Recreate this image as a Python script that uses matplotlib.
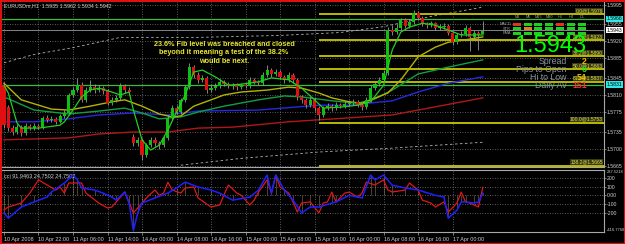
import matplotlib
matplotlib.use("Agg")
import matplotlib.pyplot as plt
from matplotlib.patches import Rectangle

plt.rcParams['font.family'] = ['Liberation Sans', 'DejaVu Sans']

W, H = 625, 244

# EURUSDm H1 candles (bar 0 = 10 Apr 2008)
opens = [1.5830, 1.5785, 1.5742, 1.5734, 1.5744, 1.5732, 1.5746, 1.5742, 1.5746, 1.5744,
         1.5763, 1.5759, 1.5761, 1.5755, 1.5767, 1.5773, 1.5810, 1.5820, 1.5830, 1.5800,
         1.5820, 1.5826, 1.5820, 1.5824, 1.5818, 1.5793, 1.5800, 1.5804, 1.5828, 1.5820,
         1.5724, 1.5711, 1.5718, 1.5687, 1.5707, 1.5718, 1.5711, 1.5707, 1.5722, 1.5763,
         1.5783, 1.5775, 1.5800, 1.5826, 1.5867, 1.5851, 1.5841, 1.5845, 1.5820, 1.5824,
         1.5828, 1.5837, 1.5832, 1.5828, 1.5830, 1.5826, 1.5830, 1.5828, 1.5841, 1.5837,
         1.5835, 1.5851, 1.5861, 1.5853, 1.5857, 1.5847, 1.5841, 1.5851, 1.5841, 1.5806,
         1.5800, 1.5789, 1.5800, 1.5783, 1.5769, 1.5783, 1.5787, 1.5783, 1.5789, 1.5787,
         1.5791, 1.5793, 1.5796, 1.5789, 1.5785, 1.5800, 1.5824, 1.5832, 1.5841, 1.5855,
         1.5943, 1.5939, 1.5947, 1.5964, 1.5951, 1.5960, 1.5978, 1.5968, 1.5955, 1.5953,
         1.5957, 1.5947, 1.5949, 1.5951, 1.5937, 1.5918, 1.5933, 1.5935, 1.5947, 1.5929,
         1.5937, 1.5935]
highs = [1.5836, 1.5790, 1.5748, 1.5750, 1.5748, 1.5752, 1.5750, 1.5752, 1.5750, 1.5766,
         1.5768, 1.5766, 1.5765, 1.5771, 1.5779, 1.5815, 1.5826, 1.5845, 1.5836, 1.5826,
         1.5840, 1.5832, 1.5830, 1.5828, 1.5822, 1.5806, 1.5810, 1.5834, 1.5832, 1.5826,
         1.5730, 1.5724, 1.5722, 1.5712, 1.5724, 1.5724, 1.5716, 1.5728, 1.5769, 1.5789,
         1.5789, 1.5804, 1.5830, 1.5875, 1.5871, 1.5857, 1.5851, 1.5849, 1.5830, 1.5834,
         1.5843, 1.5841, 1.5837, 1.5835, 1.5834, 1.5835, 1.5834, 1.5847, 1.5845, 1.5841,
         1.5857, 1.5871, 1.5865, 1.5863, 1.5861, 1.5851, 1.5857, 1.5855, 1.5845, 1.5810,
         1.5804, 1.5806, 1.5804, 1.5787, 1.5787, 1.5793, 1.5791, 1.5795, 1.5793, 1.5797,
         1.5800, 1.5802, 1.5800, 1.5793, 1.5806, 1.5830, 1.5837, 1.5847, 1.5861, 1.5949,
         1.5953, 1.5955, 1.5968, 1.5968, 1.5966, 1.5984, 1.5982, 1.5972, 1.5960, 1.5962,
         1.5960, 1.5955, 1.5957, 1.5955, 1.5941, 1.5937, 1.5941, 1.5953, 1.5951, 1.5943,
         1.5941, 1.5962]
lows = [1.5742, 1.5736, 1.5728, 1.5730, 1.5726, 1.5728, 1.5738, 1.5738, 1.5740, 1.5740,
        1.5755, 1.5755, 1.5750, 1.5752, 1.5763, 1.5769, 1.5806, 1.5816, 1.5795, 1.5796,
        1.5816, 1.5814, 1.5816, 1.5812, 1.5789, 1.5789, 1.5796, 1.5800, 1.5814, 1.5810,
        1.5705, 1.5705, 1.5677, 1.5683, 1.5703, 1.5705, 1.5700, 1.5703, 1.5718, 1.5759,
        1.5771, 1.5771, 1.5796, 1.5822, 1.5845, 1.5835, 1.5837, 1.5814, 1.5816, 1.5820,
        1.5824, 1.5828, 1.5824, 1.5822, 1.5820, 1.5822, 1.5824, 1.5824, 1.5832, 1.5830,
        1.5830, 1.5847, 1.5847, 1.5849, 1.5843, 1.5835, 1.5837, 1.5835, 1.5800, 1.5793,
        1.5783, 1.5785, 1.5777, 1.5759, 1.5765, 1.5779, 1.5777, 1.5779, 1.5783, 1.5783,
        1.5787, 1.5789, 1.5785, 1.5779, 1.5781, 1.5796, 1.5820, 1.5828, 1.5837, 1.5851,
        1.5933, 1.5935, 1.5943, 1.5947, 1.5947, 1.5955, 1.5964, 1.5951, 1.5947, 1.5949,
        1.5943, 1.5943, 1.5945, 1.5933, 1.5912, 1.5914, 1.5929, 1.5931, 1.5900, 1.5925,
        1.5902, 1.5934]
closes = [1.5748, 1.5742, 1.5734, 1.5744, 1.5732, 1.5746, 1.5742, 1.5746, 1.5744, 1.5763,
          1.5759, 1.5761, 1.5755, 1.5767, 1.5773, 1.5810, 1.5820, 1.5830, 1.5800, 1.5820,
          1.5826, 1.5820, 1.5824, 1.5818, 1.5793, 1.5800, 1.5804, 1.5828, 1.5820, 1.5816,
          1.5711, 1.5718, 1.5687, 1.5707, 1.5718, 1.5711, 1.5707, 1.5722, 1.5763, 1.5783,
          1.5775, 1.5800, 1.5826, 1.5867, 1.5851, 1.5841, 1.5845, 1.5820, 1.5824, 1.5828,
          1.5837, 1.5832, 1.5828, 1.5830, 1.5826, 1.5830, 1.5828, 1.5841, 1.5837, 1.5835,
          1.5851, 1.5861, 1.5853, 1.5857, 1.5847, 1.5841, 1.5851, 1.5841, 1.5806, 1.5800,
          1.5789, 1.5800, 1.5783, 1.5769, 1.5783, 1.5787, 1.5783, 1.5789, 1.5787, 1.5791,
          1.5793, 1.5796, 1.5789, 1.5785, 1.5800, 1.5824, 1.5832, 1.5841, 1.5855, 1.5943,
          1.5939, 1.5947, 1.5964, 1.5951, 1.5960, 1.5978, 1.5968, 1.5955, 1.5953, 1.5957,
          1.5947, 1.5949, 1.5951, 1.5937, 1.5918, 1.5933, 1.5935, 1.5947, 1.5929, 1.5937,
          1.5933, 1.5942]

# moving averages, read at sample bars
fast_ma_bars = [0, 1, 3, 4, 8, 13, 14, 16, 18, 20, 22, 25, 27, 29, 30, 32, 34, 36, 38, 40,
                42, 44, 46, 49, 52, 55, 59, 62, 66, 69, 72, 74, 78, 82, 85, 88, 90, 92, 94,
                97, 100, 103, 106, 111]
fast_ma = [1.5830, 1.5814, 1.5753, 1.5742, 1.5742, 1.5748, 1.5755, 1.5779, 1.5806, 1.5820,
           1.5824, 1.5816, 1.5810, 1.5816, 1.5779, 1.5718, 1.5697, 1.5707, 1.5738, 1.5775,
           1.5810, 1.5857, 1.5861, 1.5847, 1.5830, 1.5832, 1.5837, 1.5845, 1.5841, 1.5824,
           1.5800, 1.5783, 1.5785, 1.5789, 1.5796, 1.5830, 1.5902, 1.5939, 1.5949, 1.5957,
           1.5953, 1.5943, 1.5933, 1.5933]
yellow_ma_bars = [0, 4, 11, 15, 20, 25, 28, 32, 36, 39, 41, 44, 48, 51, 55, 61, 66, 69, 73,
                  76, 80, 83, 85, 89, 92, 96, 100, 103, 107, 111]
yellow_ma = [1.5834, 1.5800, 1.5781, 1.5779, 1.5787, 1.5796, 1.5800, 1.5787, 1.5771, 1.5765,
             1.5767, 1.5787, 1.5800, 1.5810, 1.5816, 1.5820, 1.5826, 1.5824, 1.5814, 1.5804,
             1.5796, 1.5793, 1.5800, 1.5814, 1.5841, 1.5888, 1.5908, 1.5918, 1.5923, 1.5929]
green_ma_bars = [0, 7, 15, 22, 28, 32, 36, 41, 45, 51, 59, 65, 69, 76, 82, 86, 90, 96, 103, 111]
green_ma = [1.5806, 1.5779, 1.5771, 1.5777, 1.5783, 1.5773, 1.5761, 1.5765, 1.5775, 1.5787,
            1.5800, 1.5808, 1.5806, 1.5798, 1.5793, 1.5802, 1.5820, 1.5853, 1.5867, 1.5882]
blue_ma_bars = [0, 7, 15, 22, 30, 38, 45, 59, 73, 80, 90, 96, 103, 111]
blue_ma = [1.5755, 1.5755, 1.5761, 1.5769, 1.5773, 1.5769, 1.5777, 1.5779, 1.5789, 1.5789,
           1.5798, 1.5816, 1.5834, 1.5847]
red_ma_bars = [0, 15, 22, 30, 38, 45, 53, 66, 80, 90, 96, 111]
red_ma = [1.5718, 1.5722, 1.5730, 1.5734, 1.5734, 1.5742, 1.5744, 1.5755, 1.5763, 1.5769,
          1.5779, 1.5804]

# grey dashed channel
chan_up_bars = [0, 7, 16, 27, 45, 64, 78, 88, 99, 111]
chan_up = [1.5876, 1.5893, 1.5907, 1.5928, 1.5928, 1.5932, 1.5938, 1.5950, 1.5971, 1.5990]
chan_lo_bars = [41, 55, 73, 90, 111]
chan_lo = [1.5666, 1.5680, 1.5693, 1.5701, 1.5713]

# fibonacci retracement
fib_names = ['0.0@1.5976', '23.6@1.5923', '38.2@1.5890', '50.0@1.5863', '61.8@1.5837',
             '100.0@1.5753', '138.2@1.5665']
fib_prices = [1.5976, 1.5923, 1.5890, 1.5863, 1.5837, 1.5753, 1.5665]
fib_start = 73

hlines_green = [1.5966, 1.5831]
bid = 1.5943

# CCI window
cci_red_bars = [0, 1, 4, 6, 8, 10, 12, 13, 14, 15, 18, 19, 22, 24, 25, 27, 28, 30, 32, 33,
                35, 36, 37, 38, 39, 41, 42, 44, 45, 48, 50, 52, 54, 55, 57, 58, 59, 61, 62,
                63, 64, 66, 67, 68, 69, 71, 73, 74, 75, 76, 77, 79, 80, 82, 83, 84, 86, 88,
                89, 90, 93, 94, 96, 97, 99, 100, 102, 103, 105, 106, 107, 108, 110, 111]
cci_red = [-165, -133, -88, 25, 175, 117, 60, 94, 25, 140, 140, 25, -88, -145, -133, -20, 37,
           -200, -88, -30, 60, 0, 25, 150, 60, 25, 83, 94, -30, -133, -110, 117, 25, 0, -110,
           -55, 37, 175, 25, 230, 94, 25, -75, -190, -88, -75, -200, -88, -75, 37, -75, 25, 37,
           -20, 25, 150, 117, 175, 60, 37, 60, 140, 60, -55, -88, -133, -75, -190, -88, 37,
           -75, -88, -133, 92]
cci_blue_bars = [0, 1, 4, 7, 10, 11, 14, 16, 17, 18, 21, 23, 25, 26, 28, 29, 30, 31, 32, 35,
                 38, 40, 42, 45, 48, 50, 53, 57, 59, 61, 62, 63, 65, 67, 69, 71, 73, 76, 77,
                 80, 83, 85, 86, 88, 90, 93, 96, 100, 102, 103, 105, 106, 107, 109, 110, 111]
cci_blue = [-200, -260, -133, -75, -20, 37, 140, 230, 175, 83, 60, 25, -20, -55, 37, -88, -400,
            -200, -88, -30, 25, 83, 150, 94, 60, 25, -55, -20, 60, 230, 25, 230, 60, -55, -200,
            -133, -133, -88, -75, 0, -30, 230, 175, 230, 115, 83, 60, 0, -20, -260, -170, -75,
            -75, -88, -75, 25]
cci_top, cci_bottom = 287.5218, -416.7768

time_ticks = [0, 8, 16, 24, 32, 40, 48, 56, 64, 72, 80, 88, 96, 104]
time_labels = ['10 Apr 2008', '10 Apr 22:00', '11 Apr 06:00', '11 Apr 14:00', '14 Apr 00:00',
               '14 Apr 08:00', '14 Apr 16:00', '15 Apr 00:00', '15 Apr 08:00', '15 Apr 16:00',
               '16 Apr 00:00', '16 Apr 08:00', '16 Apr 16:00', '17 Apr 00:00']
price_ticks = [1.5995, 1.5955, 1.5920, 1.5885, 1.5845, 1.5810, 1.5775, 1.5735, 1.5700, 1.5665]

# signal panel
tf_names = ['M1', 'M5', 'M15', 'M30', 'H1', 'H4', 'D1']
sig_rows = ['MACD', 'STR', 'EMA']
sig_macd = ['#e03030', '#20d020', '#20d020', '#20d020', '#e03030', '#20d020', '#20d020']
sig_str = ['#20d020', '#e08020', '#20d020', '#20d020', '#20d020', '#20d020', '#20d020']
sig_ema = ['#20d020', '#20d020', '#20d020', '#20d020', '#20d020', '#20d020', '#20d020']

info_names = ['Spread', 'Pips to Open', 'Hi to Low', 'Daily Av']
info_values = ['2', '6', '54', '151']
info_colors = ['#e8c000', '#20e020', '#e8c000', '#ff2a2a']

GRID = '#7a7a7a'
TXT = '#d0d0d0'


def px_axes(x0, y0, x1, y1):
    return fig.add_axes([x0 / W, 1 - y1 / H, (x1 - x0) / W, (y1 - y0) / H])


def ftext(x, y, s, **kw):
    return fig.text(x / W, 1 - y / H, s, **kw)


fig = plt.figure(figsize=(W / 100, H / 100), dpi=100)
fig.patch.set_facecolor('black')

ax = px_axes(2, 1, 604, 167)
ax2 = px_axes(2, 170, 604, 232)
x_lo, x_hi = -0.46, 139.1

for a in (ax, ax2):
    a.set_facecolor('black')
    a.set_xlim(x_lo, x_hi)
    a.set_xticks(time_ticks)
    a.grid(True, color=GRID, ls=(0, (1, 2)), lw=0.6)
    a.spines['left'].set_visible(False)
    for s in ('right', 'bottom', 'top'):
        a.spines[s].set_color('#a8a8a8')
        a.spines[s].set_linewidth(0.8)
    a.yaxis.tick_right()
    a.tick_params(axis='y', colors='#a8a8a8', labelcolor=TXT, labelsize=3.7, length=1.2,
                  width=0.5, pad=0.8)
    a.tick_params(axis='x', colors='#a8a8a8', length=2, width=0.5)
ax.spines['top'].set_visible(False)
ax.tick_params(axis='x', labelbottom=False, length=0)

# main price panel
ax.set_ylim(1.56623, 1.60026)
ax.set_yticks(price_ticks)
ax.set_yticklabels(['%.4f' % p for p in price_ticks])

for p in hlines_green:
    ax.axhline(p, color='#3cbc3c', lw=0.9, zorder=2)
ax.axhline(bid, color='#9a9a9a', lw=0.6, zorder=2)

ax.plot(chan_up_bars, chan_up, color='#b4b4b4', ls=(0, (3, 3)), lw=0.6, zorder=2)
ax.plot(chan_lo_bars, chan_lo, color='#b4b4b4', ls=(0, (3, 3)), lw=0.6, zorder=2)

for p, name in zip(fib_prices, fib_names):
    ax.hlines(p, fib_start, x_hi, color='#c8c800', lw=1.3, zorder=3)
    ax.text(x_hi - 0.3, p + 0.0002, name, color='#d8d860', fontsize=3.6, ha='right',
            va='bottom', zorder=6,
            bbox=dict(boxstyle='square,pad=0.05', fc='#3a3a10', ec='none'))

ax.plot(red_ma_bars, red_ma, color='#b01818', lw=1.0, zorder=3)
ax.plot(blue_ma_bars, blue_ma, color='#2828e0', lw=1.0, zorder=3)
ax.plot(green_ma_bars, green_ma, color='#10a040', lw=1.0, zorder=3)
ax.plot(yellow_ma_bars, yellow_ma, color='#b4b400', lw=1.0, zorder=3)

bars = list(range(len(closes)))
body_col = ['#10c010' if c >= o else '#e01010' for o, c in zip(opens, closes)]
ax.vlines(bars, lows, highs, color='#9a9a9a', lw=0.6, zorder=4)
ax.bar(bars, [max(abs(c - o), 0.00008) for o, c in zip(opens, closes)],
       bottom=[min(o, c) for o, c in zip(opens, closes)], width=0.72, color=body_col,
       edgecolor='none', zorder=5)
ax.plot(fast_ma_bars, fast_ma, color='#22d022', lw=0.9, zorder=6)

# boxed price labels on the right scale
yax = ax.get_yaxis_transform()
for p, fc in [(1.5966, '#30e8e8'), (bid, 'white'), (1.5831, '#30e8e8')]:
    ax.text(1.0045, p, '%.4f' % p, transform=yax, fontsize=3.7, color='black', va='center',
            ha='left', bbox=dict(boxstyle='square,pad=0.15', fc=fc, ec='none'),
            clip_on=False, zorder=10)

# CCI panel
ax2.set_ylim(cci_bottom, cci_top)
ax2.set_yticks([200, 100, 0, -100, -200])
ax2.set_yticklabels(['200', '100', '0.00', '-100', '-200'])
y2ax = ax2.get_yaxis_transform()
for v, va in [(cci_top, 'top'), (cci_bottom, 'bottom')]:
    ax2.text(1.004, v, '%.4f' % v, transform=y2ax, fontsize=2.9, color=TXT, va=va,
             ha='left', clip_on=False)
ax2.vlines(cci_blue_bars, 0, cci_blue, color='#a08860', lw=0.45, alpha=0.75, zorder=2)
ax2.plot(cci_red_bars, cci_red, color='#e01818', lw=0.9, zorder=3)
ax2.plot(cci_blue_bars, cci_blue, color='#2020ff', lw=1.1, zorder=4)
ax2.set_xticklabels(time_labels, fontsize=3.9, color=TXT, ha='left')
ax2.tick_params(axis='x', pad=1.5)
ax2.text(0.004, 0.93, 'cci 91.9463 24.7502 24.7502', transform=ax2.transAxes,
         fontsize=4, color=TXT, va='top')

# header and annotation
ftext(4, 6, 'EURUSDm,H1  1.5935 1.5962 1.5934 1.5942', fontsize=3.8, color=TXT, va='center')
ftext(224, 53, '23.6% Fib level was breached and closed\n'
               'beyond it meaning a test of the 38.2%\nwould be next.',
      fontsize=5.2, color='#e8e830', fontweight='bold', ha='center', va='center',
      linespacing=1.25)

# signal table
col_x = [517, 528, 538, 549, 560, 571, 582]
for cx, name in zip(col_x, tf_names):
    ftext(cx, 17, name, fontsize=2.8, color='#a0a0a0', ha='center', va='center')
for r, (row_name, row) in enumerate(zip(sig_rows, [sig_macd, sig_str, sig_ema])):
    ry = 24 + r * 4.5
    ftext(511, ry, row_name, fontsize=2.8, color='#a0a0a0', ha='right', va='center')
    for cx, c in zip(col_x, row):
        fig.add_artist(Rectangle(((cx - 4) / W, 1 - (ry + 1.5) / H), 8 / W, 3 / H,
                                 transform=fig.transFigure, fc=c, ec='none'))

ftext(586, 46, '1.5943', fontsize=17, color='#00ff00', ha='right', va='center')
for k, (name, val, col) in enumerate(zip(info_names, info_values, info_colors)):
    yy = 61.5 + k * 8
    ftext(567, yy, name, fontsize=6.3, color='#8c96a0', ha='right', va='center')
    ftext(587, yy, val, fontsize=6.3, color=col, ha='right', va='center', fontweight='bold')

# red window frame
fig.add_artist(Rectangle((0, 0), 1, 1, transform=fig.transFigure, fill=False,
                         ec='#e01010', lw=2.2))

fig.savefig('out.png', dpi=100, facecolor='black')
